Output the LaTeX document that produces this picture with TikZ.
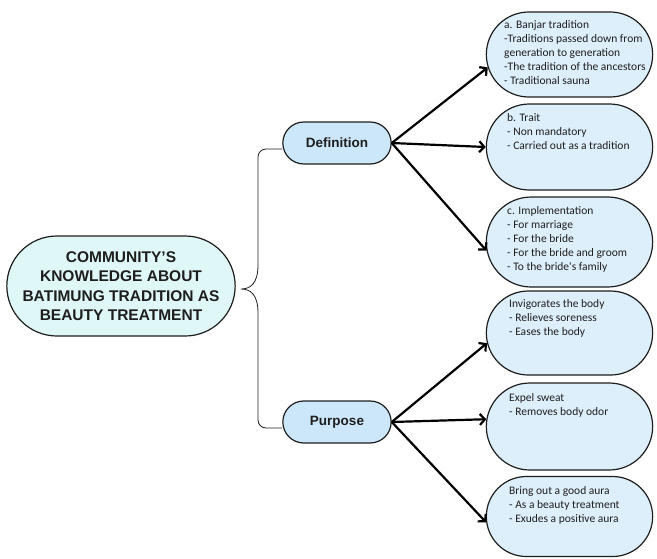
\documentclass[tikz,border=0pt]{standalone}
\usepackage{fontspec}
\setmainfont{Liberation Sans}
\newfontfamily\leaffont{Carlito}
\usetikzlibrary{positioning, shapes.misc, arrows.meta}
\definecolor{rootfill}{RGB}{224,247,247}
\definecolor{midfill}{RGB}{204,231,250}
\definecolor{leaffill}{RGB}{222,239,252}
\definecolor{ink}{RGB}{30,30,30}
\tikzset{
    rootnode/.style={rounded rectangle, draw=ink, line width=1.2pt, fill=rootfill,
        minimum width=235pt, minimum height=100pt, align=center, text=ink,
        font=\fontsize{15.5}{19.5}\selectfont\bfseries},
    midnode/.style={rounded rectangle, draw=ink, line width=1.2pt, fill=midfill,
        minimum width=115pt, minimum height=42pt, text=ink,
        font=\fontsize{13.5}{16}\selectfont\bfseries},
    leafbox/.style={rounded rectangle, draw=ink, line width=1.2pt, fill=leaffill,
        minimum width=173pt},
    leaftext/.style={anchor=north west, align=left, inner sep=0pt, text=ink,
        font=\leaffont\fontsize{11.5}{14}\selectfont},
    branch/.style={line width=2.2pt, -{Straight Barb[length=5pt, width=11pt]}},
}

\begin{document}
\begin{tikzpicture}[x=1pt, y=-1pt]
    \useasboundingbox (0,0) rectangle (657,558);
    \node[rootnode] (root) at (121,286) {COMMUNITY'S\\KNOWLEDGE ABOUT\\BATIMUNG TRADITION AS\\BEAUTY TREATMENT};
    \node[midnode] (def) at (337,143) {Definition};
    \node[midnode] (pur) at (337,422) {Purpose};

    \node[leafbox, minimum height=85pt] (a) at (569.5,54.5) {};
    \node[leafbox, minimum height=86pt] (b) at (569.5,147) {};
    \node[leafbox, minimum height=90pt] (c) at (569.5,242) {};
    \node[leafbox, minimum height=84pt] (d) at (569.5,333) {};
    \node[leafbox, minimum height=87pt] (e) at (569.5,426.5) {};
    \node[leafbox, minimum height=80pt] (f) at (569.5,516.5) {};

    \node[leaftext] (ta) at (504,20) {a. Banjar tradition\\-Traditions passed down from\\generation to generation\\-The tradition of the ancestors\\- Traditional sauna};
    \node[leaftext] (tb) at (507,113) {b. Trait\\- Non mandatory\\- Carried out as a tradition};
    \node[leaftext] (tc) at (507,206) {c. Implementation\\- For marriage\\- For the bride\\- For the bride and groom\\- To the bride's family};
    \node[leaftext] (td) at (509,299) {Invigorates the body\\- Relieves soreness\\- Eases the body};
    \node[leaftext] (te) at (509,393) {Expel sweat\\- Removes body odor};
    \node[leaftext] (tf) at (509,486) {Bring out a good aura\\- As a beauty treatment\\- Exudes a positive aura};

    % brace from the root to both branches
    \coordinate (tip) at (241,289);
    \draw[ink, line width=0.8pt, rounded corners=8pt] ([yshift=-6pt]def.west) -| (258,265);
    \draw[ink, line width=0.8pt] (258,265) .. controls (258,284) and (250,289) .. (tip)
        .. controls (250,289) and (258,294) .. (258,313);
    \draw[ink, line width=0.8pt, rounded corners=8pt] (258,313) |- ([yshift=-6pt]pur.west);

    \draw[branch] (def.east) -- (a.189);
    \draw[branch] (def.east) -- (b.180);
    \draw[branch] (def.east) -- (c.186);
    \draw[branch] (pur.east) -- (d.187);
    \draw[branch] (pur.east) -- (e.175);
    \draw[branch] (pur.east) -- (f.184);
\end{tikzpicture}
\end{document}
